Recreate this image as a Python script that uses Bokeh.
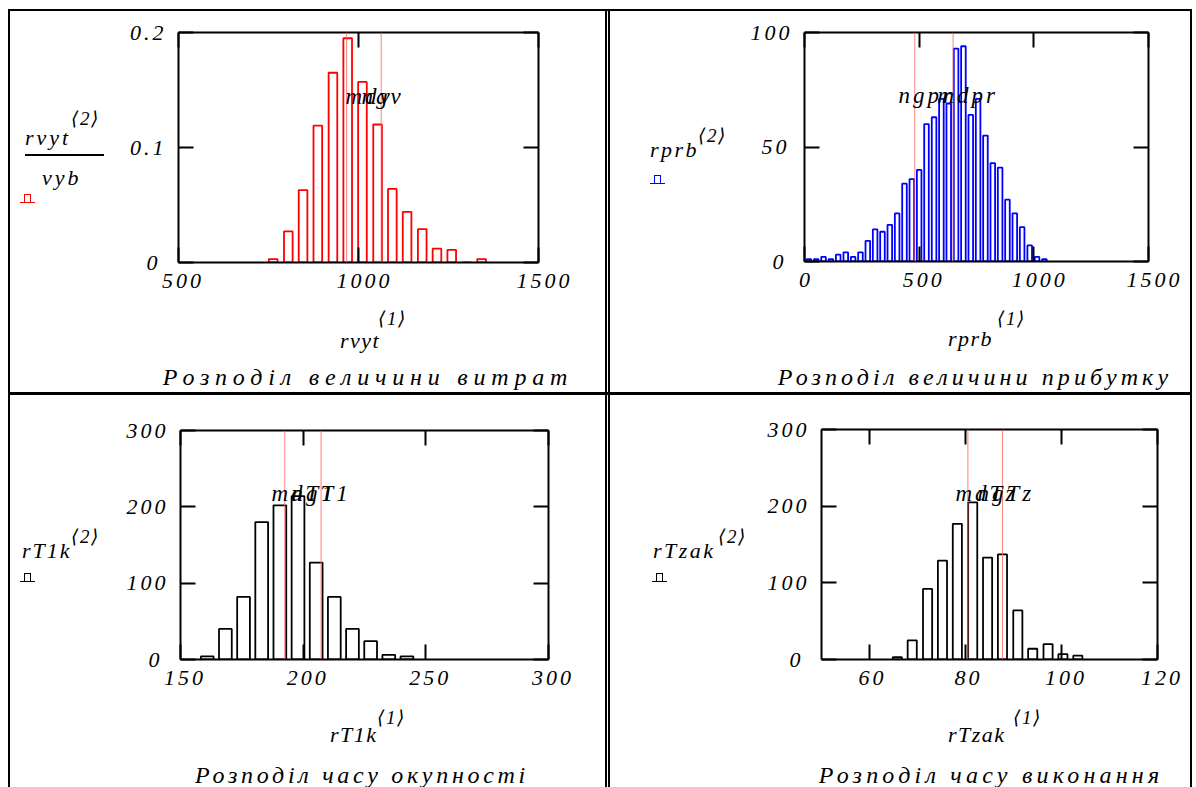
from bokeh.plotting import figure
from bokeh.models import (ColumnDataSource, FixedTicker, LinearAxis, Range1d, Span, Label, Div)
from bokeh.layouts import row, column
from bokeh.embed import file_html
from bokeh.resources import INLINE

SERIF = "'Liberation Serif', 'DejaVu Serif', serif"

# ---- Розподіл величини витрат (relative frequency rvyt<2>/vyb) ----
vyt_bins = [763, 805, 846, 887, 929, 970, 1011, 1053, 1094, 1135, 1177, 1218, 1259, 1301, 1342]
vyt_freq = [0.003, 0.027, 0.063, 0.119, 0.165, 0.195, 0.157, 0.120, 0.064, 0.044,
            0.029, 0.012, 0.011, 0.0, 0.003]
vyt_marks = [967, 1063]
vyt_mark_names = ["mdv", "ngv"]
vyt_xticks = [500, 1000, 1500]
vyt_yticks = [0, 0.1, 0.2]

# ---- Розподіл величини прибутку (counts rprb<2>) ----
prb_bins = [19, 51, 83, 115, 147, 180, 212, 244, 276, 308, 340, 372, 404, 436, 468, 500, 532,
            565, 597, 629, 661, 693, 725, 757, 789, 821, 853, 885, 917, 949, 982, 1014, 1046]
prb_count = [1, 1, 2, 1, 3, 4, 2, 4, 9, 14, 13, 16, 21, 34, 36, 40, 60, 63, 71, 69, 93, 94,
             64, 71, 55, 43, 41, 27, 21, 15, 7, 2, 1]
prb_marks = [481, 648]
prb_mark_names = ["ngpr", "mdpr"]
prb_xticks = [0, 500, 1000, 1500]
prb_yticks = [0, 50, 100]

# ---- Розподіл часу окупності (counts rT1k<2>) ----
t1_bins = [160.9, 168.3, 175.7, 183.1, 190.5, 197.9, 205.3, 212.7, 220.1, 227.5, 234.9, 242.3]
t1_count = [4, 40, 82, 180, 202, 214, 127, 82, 40, 24, 6, 4]
t1_marks = [192.5, 207.3]
t1_mark_names = ["mdT1", "ngT1"]
t1_xticks = [150, 200, 250, 300]
t1_yticks = [0, 100, 200, 300]

# ---- Розподіл часу виконання (counts rTzak<2>) ----
tz_bins = [65.8, 68.9, 72.1, 75.2, 78.3, 81.5, 84.6, 87.7, 90.9, 94.0, 97.2, 100.3, 103.4]
tz_count = [3, 25, 92, 129, 177, 205, 133, 137, 64, 14, 20, 7, 5]
tz_marks = [80.5, 87.7]
tz_mark_names = ["mdTz", "ngTz"]
tz_xticks = [60, 80, 100, 120]
tz_yticks = [0, 100, 200, 300]


def gap(w, h):
    return Div(text="", width=w, height=h, margin=0)


def rule(w, h):
    return Div(text="", width=w, height=h, margin=0, styles={"background-color": "black"})


def html_block(x0, y0, w, h, items, font=SERIF):
    """A fixed-size HTML block; items are placed in page coordinates."""
    parts = []
    for it in items:
        kind = it[0]
        if kind == "text":
            _, s, left, cy, size, sp = it
            lh = round(size * 1.2)
            parts.append(
                '<span style="position:absolute;left:%.1fpx;top:%.1fpx;font-family:%s;'
                'font-style:italic;font-size:%dpx;line-height:%dpx;letter-spacing:%.1fpx;'
                'white-space:nowrap;color:black">%s</span>'
                % (left - x0, cy - y0 - lh / 2, font, size, lh, sp, s))
        elif kind == "ctext":
            _, s, cx, cy, size, sp = it
            lh = round(size * 1.2)
            parts.append(
                '<span style="position:absolute;left:%.1fpx;top:%.1fpx;width:600px;'
                'text-align:center;font-family:%s;font-style:italic;font-size:%dpx;'
                'line-height:%dpx;letter-spacing:%.1fpx;white-space:nowrap;color:black">%s</span>'
                % (cx - x0 - 300, cy - y0 - lh / 2, font, size, lh, sp, s))
        elif kind == "bar":
            _, left, right, y, color = it
            parts.append(
                '<div style="position:absolute;left:%.1fpx;top:%.1fpx;width:%.1fpx;height:1.5px;'
                'background:%s"></div>' % (left - x0, y - y0, right - left, color))
        elif kind == "icon":
            # bar-trace symbol: a short base line with a raised pulse
            _, left, base, color = it
            parts.append(
                '<div style="position:absolute;left:%.1fpx;top:%.1fpx;width:15px;height:1.5px;'
                'background:%s"></div>' % (left - x0, base - y0 - 1.5, color))
            parts.append(
                '<div style="position:absolute;left:%.1fpx;top:%.1fpx;width:7px;height:9px;'
                'box-sizing:border-box;border:1.5px solid %s;border-bottom:none"></div>'
                % (left - x0 + 4, base - y0 - 9.5, color))
    html = ('<div style="position:relative;width:%dpx;height:%dpx;overflow:hidden">%s</div>'
            % (w, h, "".join(parts)))
    return Div(text=html, width=w, height=h, margin=0)


def panel(w, h, borders, xr, yr, xticks, yticks, bins, vals, bar_w, color,
          marks, mark_names, mark_x, y_over=None):
    l, r, t, b = borders
    p = figure(width=w, height=h, x_range=Range1d(*xr), y_range=Range1d(*yr),
               output_backend="svg", toolbar_location=None,
               x_axis_location=None, y_axis_location=None,
               min_border_left=l, min_border_right=r, min_border_top=t, min_border_bottom=b,
               background_fill_color="white", border_fill_color="white")
    p.styles = {"letter-spacing": "3px"}
    p.outline_line_color = None
    p.xgrid.visible = False
    p.ygrid.visible = False

    axes = {}
    for side, ticks in (("below", xticks), ("above", xticks), ("left", yticks), ("right", yticks)):
        ax = LinearAxis(ticker=FixedTicker(ticks=ticks))
        ax.axis_line_color = "black"
        ax.axis_line_width = 2
        ax.major_tick_in = 15
        ax.major_tick_out = 0
        ax.major_tick_line_width = 2
        ax.major_tick_line_color = "black"
        ax.minor_tick_line_color = None
        ax.major_label_text_font = SERIF
        ax.major_label_text_font_style = "italic"
        ax.major_label_text_font_size = "22px"
        ax.major_label_text_color = "black"
        if side in ("above", "right"):
            ax.major_label_text_color = None
            ax.major_label_text_font_size = "1px"
            ax.major_label_standoff = 0
        p.add_layout(ax, side)
        axes[side] = ax
    axes["left"].major_label_standoff = 21
    axes["below"].major_label_standoff = 11
    if y_over:
        axes["left"].major_label_overrides = y_over

    src = ColumnDataSource(dict(x=bins, top=vals))
    p.vbar(x="x", top="top", bottom=0, width=bar_w, source=src,
           fill_color=None, line_color=color, line_width=1.8)

    for m in marks:
        p.add_layout(Span(location=m, dimension="height", line_color="#ff6060",
                          line_width=1, line_alpha=0.8))
    for name, mx in zip(mark_names, mark_x):
        p.add_layout(Label(x=mx, y=166, x_units="screen", y_units="screen", text=name,
                           text_font=SERIF, text_font_style="italic", text_font_size="23px",
                           text_color="black", text_align="left", text_baseline="middle"))
    return p


# ---------- cell 1: витрати ----------
p1 = panel(485, 289, (58, 67, 21, 38), (500, 1500), (0, 0.2), vyt_xticks, vyt_yticks,
           vyt_bins, vyt_freq, 24, "red", vyt_marks, vyt_mark_names, [167, 183],
           y_over={0: "0"})
y1 = html_block(10, 11, 110, 289, [
    ("text", "rvyt", 25, 138, 22, 3.0),
    ("text", "⟨2⟩", 71, 118, 19, 1.5),
    ("bar", 25, 104, 154, "black"),
    ("text", "vyb", 42, 178, 22, 3.0),
    ("icon", 20, 203, "red"),
])
b1 = html_block(10, 300, 595, 92, [
    ("text", "rvyt", 340, 341, 22, 1.5),
    ("text", "⟨1⟩", 378, 318, 19, 1.5),
    ("ctext", "Розподіл величини витрат", 368, 377, 24, 5.8),
])

# ---------- cell 2: прибуток ----------
p2 = panel(445, 289, (59, 42, 21, 39), (0, 1500), (0, 100), prb_xticks, prb_yticks,
           prb_bins, prb_count, 20, "blue", prb_marks, prb_mark_names, [94, 133])
y2 = html_block(610, 11, 135, 289, [
    ("text", "rprb", 650, 150, 22, 2.5),
    ("text", "⟨2⟩", 698, 135, 19, 1.5),
    ("icon", 650, 184, "blue"),
])
b2 = html_block(610, 300, 580, 92, [
    ("text", "rprb", 948, 339, 22, 1.5),
    ("text", "⟨1⟩", 997, 318, 19, 1.5),
    ("ctext", "Розподіл величини прибутку", 975, 377, 24, 4.1),
])

# ---------- cell 3: окупність ----------
p3 = panel(490, 302, (65, 57, 35, 38), (150, 300), (0, 300), t1_xticks, t1_yticks,
           t1_bins, t1_count, 5.2, "black", t1_marks, t1_mark_names, [91, 111])
y3 = html_block(10, 395, 105, 302, [
    ("text", "rT1k", 22, 551, 22, 2.0),
    ("text", "⟨2⟩", 71, 536, 19, 1.5),
    ("icon", 20, 582, "black"),
])
b3 = html_block(10, 697, 595, 90, [
    ("text", "rT1k", 330, 735, 22, 1.5),
    ("text", "⟨1⟩", 377, 717, 19, 1.5),
    ("ctext", "Розподіл часу окупності", 362, 775, 24, 3.7),
])

# ---------- cell 4: виконання ----------
p4 = panel(440, 302, (71, 33, 34, 38), (50, 120), (0, 300), tz_xticks, tz_yticks,
           tz_bins, tz_count, 1.9, "black", tz_marks, tz_mark_names, [134, 156])
y4 = html_block(610, 395, 140, 302, [
    ("text", "rTzak", 653, 551, 22, 2.5),
    ("text", "⟨2⟩", 718, 536, 19, 1.5),
    ("icon", 652, 582, "black"),
])
b4 = html_block(610, 697, 580, 90, [
    ("text", "rTzak", 948, 735, 22, 1.5),
    ("text", "⟨1⟩", 1013, 717, 19, 1.5),
    ("ctext", "Розподіл часу виконання", 991, 775, 24, 4.2),
])

cell1 = column(row(y1, p1, spacing=0), b1, spacing=0)
cell2 = column(row(y2, p2, spacing=0), b2, spacing=0)
cell3 = column(row(y3, p3, spacing=0), b3, spacing=0)
cell4 = column(row(y4, p4, spacing=0), b4, spacing=0)

row1 = row(gap(8, 381), rule(2, 381), cell1, rule(2, 381), gap(1, 381), rule(2, 381), cell2,
           rule(2, 381), spacing=0)
row2 = row(gap(8, 392), rule(2, 392), cell3, rule(2, 392), gap(1, 392), rule(2, 392), cell4,
           rule(2, 392), spacing=0)
page = column(gap(1196, 9), row(gap(8, 2), rule(1184, 2), spacing=0), row1,
              row(gap(8, 3), rule(1184, 3), spacing=0), row2, spacing=0)

open("out.html", "w").write(file_html(page, INLINE))
